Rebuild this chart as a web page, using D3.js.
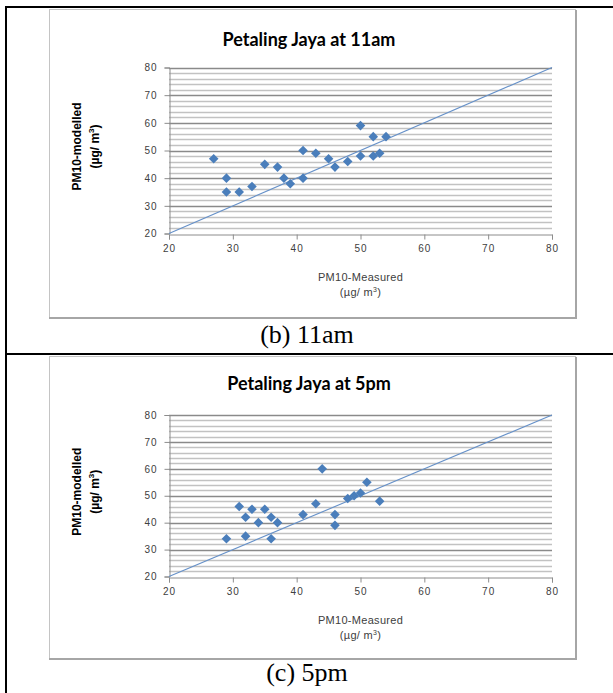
<!DOCTYPE html>
<html lang="en">
<head>
<meta charset="UTF-8">
<title>Petaling Jaya PM10 - modelled vs measured</title>
<script src="https://d3js.org/d3.v7.min.js"></script>
<style>
  body { margin: 0; background: #ffffff; }
  svg { display: block; }
  .chart-title { font-family: Lato, 'Open Sans', sans-serif; font-weight: 700; font-size: 18px; fill: #000; }
  .tick text { font-family: 'Liberation Sans', Arial, sans-serif; font-size: 10px; fill: #404040; letter-spacing: 1px; }
  .axis-title { font-family: 'Liberation Sans', Arial, sans-serif; font-size: 11px; fill: #404040; letter-spacing: 0.3px; }
  .y-title { font-family: 'Liberation Sans', Arial, sans-serif; font-size: 12px; font-weight: 700; fill: #000; }
  .caption { font-family: 'Liberation Serif', 'Times New Roman', serif; font-size: 26px; fill: #000; }
</style>
</head>
<body>
<svg id="chart" width="613" height="693"></svg>
<script>
// PM10 at Petaling Jaya, 11am (measured vs modelled, µg/m³)
const measured11am = [27, 29, 29, 31, 33, 35, 37, 38, 39, 41, 41, 43, 45, 46, 48, 50, 50, 52, 54, 52, 53];
const modelled11am = [47, 40, 35, 35, 37, 45, 44, 40, 38, 50, 40, 49, 47, 44, 46, 59, 48, 55, 55, 48, 49];

// PM10 at Petaling Jaya, 5pm
const measured5pm = [29, 31, 32, 32, 33, 34, 35, 36, 36, 37, 41, 43, 44, 46, 46, 48, 49, 50, 51, 53];
const modelled5pm = [34, 46, 42, 35, 45, 40, 45, 42, 34, 40, 43, 47, 60, 43, 39, 49, 50, 51, 55, 48];

const xTicks = [20, 30, 40, 50, 60, 70, 80];
const yTicks = [20, 30, 40, 50, 60, 70, 80];
const axisDomain = [20, 80];
const minorStep = 2;            // light gridlines every 2 units
const oneToOne = [20, 80];      // 1:1 reference line

const panelTitles = ["Petaling Jaya at 11am", "Petaling Jaya at 5pm"];
const captions = ["(b) 11am", "(c) 5pm"];

const svg = d3.select("#chart");

// table lines around the two cells
svg.append("line").attr("x1", 6).attr("x2", 6).attr("y1", 6).attr("y2", 693)
  .attr("stroke", "#000").attr("stroke-width", 2);
svg.append("line").attr("x1", 5).attr("x2", 613).attr("y1", 7).attr("y2", 7)
  .attr("stroke", "#000").attr("stroke-width", 2);
svg.append("line").attr("x1", 5).attr("x2", 613).attr("y1", 354).attr("y2", 354)
  .attr("stroke", "#000").attr("stroke-width", 2);

function drawPanel(cfg) {
  const g = svg.append("g");

  // chart frame
  g.append("rect")
    .attr("x", 49.5).attr("y", cfg.frameTop + 0.5)
    .attr("width", 526).attr("height", cfg.frameBottom - cfg.frameTop)
    .attr("fill", "#fff").attr("stroke", "#c4c4c4");
  g.append("path")
    .attr("d", `M576,${cfg.frameTop + 1}V${cfg.frameBottom + 1}H49`)
    .attr("fill", "none").attr("stroke", "#a6a6a6").attr("stroke-width", 2);

  const x = d3.scaleLinear().domain(axisDomain).range([169, 552]);
  const y = d3.scaleLinear().domain(axisDomain).range([cfg.plotBottom, cfg.plotTop]);

  // gridlines: light every 2, darker on each labelled value
  const minor = d3.range(axisDomain[0] + minorStep, axisDomain[1] + 0.1, minorStep)
    .filter(v => !yTicks.includes(v));
  g.append("g").selectAll("line").data(minor).join("line")
    .attr("x1", x(axisDomain[0])).attr("x2", x(axisDomain[1]))
    .attr("y1", d => Math.round(y(d)) + 0.5).attr("y2", d => Math.round(y(d)) + 0.5)
    .attr("stroke", "#c2c2c2").attr("stroke-width", 1.3);
  g.append("g").selectAll("line").data(yTicks.filter(v => v > axisDomain[0])).join("line")
    .attr("x1", x(axisDomain[0])).attr("x2", x(axisDomain[1]))
    .attr("y1", d => Math.round(y(d)) + 0.5).attr("y2", d => Math.round(y(d)) + 0.5)
    .attr("stroke", "#8a8a8a").attr("stroke-width", 1.3);

  // axes
  const xAxis = g.append("g")
    .attr("transform", `translate(0,${Math.round(cfg.plotBottom) + 0.5})`)
    .call(d3.axisBottom(x).tickValues(xTicks).tickSize(5).tickPadding(5).tickFormat(d3.format("d")));
  const yAxis = g.append("g")
    .attr("transform", `translate(${x(axisDomain[0]) + 0.5},0)`)
    .call(d3.axisLeft(y).tickValues(yTicks).tickSize(5).tickPadding(7).tickFormat(d3.format("d")));
  [xAxis, yAxis].forEach(a => {
    a.select(".domain").attr("stroke", "#8c8c8c");
    a.selectAll(".tick line").attr("stroke", "#8c8c8c");
    a.attr("font-family", null).attr("font-size", null);
  });

  // 1:1 line
  g.append("line")
    .attr("x1", x(oneToOne[0])).attr("y1", y(oneToOne[0]))
    .attr("x2", x(oneToOne[1])).attr("y2", y(oneToOne[1]))
    .attr("stroke", "#6691c9").attr("stroke-width", 1.1);

  // points (diamonds)
  const pts = cfg.measured.map((m, i) => [m, cfg.modelled[i]]);
  const diamond = d3.symbol().type(d3.symbolSquare).size(46);
  g.append("g").selectAll("path").data(pts).join("path")
    .attr("d", diamond)
    .attr("transform", d => `translate(${x(d[0])},${y(d[1])}) rotate(45)`)
    .attr("fill", "#4a7ebb");

  // titles
  g.append("text").attr("class", "chart-title")
    .attr("x", 309).attr("y", cfg.titleY).attr("text-anchor", "middle")
    .text(cfg.title);

  const xMid = (x(axisDomain[0]) + x(axisDomain[1])) / 2;
  g.append("text").attr("class", "axis-title")
    .attr("x", xMid).attr("y", cfg.plotBottom + 47).attr("text-anchor", "middle")
    .text("PM10-Measured");
  const units = g.append("text").attr("class", "axis-title")
    .attr("x", xMid).attr("y", cfg.plotBottom + 62).attr("text-anchor", "middle");
  units.append("tspan").text("(µg/ m");
  units.append("tspan").attr("font-size", "7px").attr("dy", -4).text("3");
  units.append("tspan").attr("dy", 4).text(")");

  const yMid = (cfg.plotTop + cfg.plotBottom) / 2 - 4;
  const yt = g.append("text").attr("class", "y-title")
    .attr("transform", `translate(81,${yMid}) rotate(-90)`)
    .attr("text-anchor", "middle");
  yt.append("tspan").attr("x", 0).attr("dy", 0).text("PM10-modelled");
  const yt2 = g.append("text").attr("class", "y-title")
    .attr("transform", `translate(99,${yMid}) rotate(-90)`)
    .attr("text-anchor", "middle");
  yt2.append("tspan").text("(µg/ m");
  yt2.append("tspan").attr("font-size", "8px").attr("dy", -5).text("3");
  yt2.append("tspan").attr("dy", 5).text(")");

  // caption under the chart
  svg.append("text").attr("class", "caption")
    .attr("x", 307).attr("y", cfg.captionY).attr("text-anchor", "middle")
    .text(cfg.caption);
}

drawPanel({
  frameTop: 9, frameBottom: 317, plotTop: 67.5, plotBottom: 233.5,
  titleY: 46, captionY: 343, title: panelTitles[0], caption: captions[0],
  measured: measured11am, modelled: modelled11am
});
drawPanel({
  frameTop: 356, frameBottom: 658, plotTop: 415, plotBottom: 576.5,
  titleY: 390, captionY: 681, title: panelTitles[1], caption: captions[1],
  measured: measured5pm, modelled: modelled5pm
});
</script>
</body>
</html>
